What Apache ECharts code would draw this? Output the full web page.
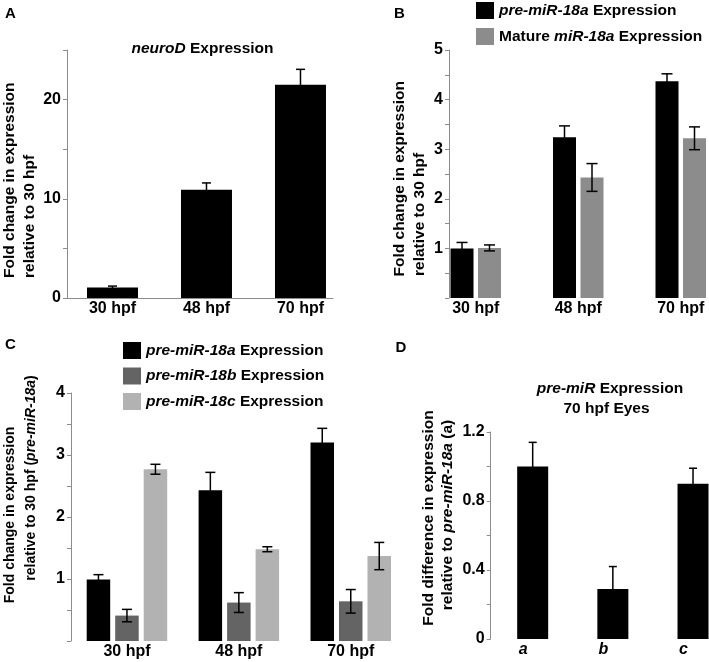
<!DOCTYPE html>
<html>
<head>
<meta charset="utf-8">
<script src="https://cdn.jsdelivr.net/npm/echarts@6/dist/echarts.min.js"></script>
<style>
html,body{margin:0;padding:0;background:#fff;}
#chart{width:709px;height:662px;}
</style>
</head>
<body>
<div id="chart"></div>
<script>
// ---------- data ----------
const timeCats = ['30 hpf', '48 hpf', '70 hpf'];
const eyeCats = ['a', 'b', 'c'];

// Panel A: neuroD
const neuroD = [1.05, 10.9, 21.5];
const neuroDErr = [0.15, 0.7, 1.55];

// Panel B
const bPre18a = [1.0, 3.24, 4.37];
const bPre18aErr = [0.12, 0.23, 0.15];
const bMature18a = [1.01, 2.43, 3.22];
const bMature18aErr = [0.06, 0.28, 0.23];

// Panel C
const cPre18a = [0.99, 2.43, 3.2];
const cPre18aErr = [0.08, 0.29, 0.23];
const cPre18b = [0.41, 0.62, 0.64];
const cPre18bErr = [0.1, 0.16, 0.19];
const cPre18c = [2.77, 1.48, 1.37];
const cPre18cErr = [0.08, 0.04, 0.22];

// Panel D
const dEyes = [1.0, 0.29, 0.9];
const dEyesErr = [0.14, 0.13, 0.09];

// tick labels
const yLabelsA = [0, 10, 20];
const yLabelsB = [1, 2, 3, 4, 5];
const yLabelsC = [1, 2, 3, 4];
const yLabelsD = ['0', '0.4', '0.8', '1.2'];

// ---------- styles ----------
const FONT = 'Liberation Sans, Arial, Helvetica, sans-serif';
const AXIS_COLOR = '#8c8c8c';
const BLACK = '#000000';
const GRAY_B = '#8c8c8c';
const DARK_C = '#646464';
const LIGHT_C = '#b2b2b2';

const labelStyle = (italic) => ({
  fontSize: 16, fontWeight: 'bold', fontFamily: FONT, color: '#000',
  fontStyle: italic ? 'italic' : 'normal', margin: 3
});

// Panel A uses a value x-axis so the axis line length matches the figure
function xAxisValue(gi, min, max, cats) {
  return {
    type: 'value', gridIndex: gi, min: min, max: max,
    splitLine: {show: false},
    axisTick: {show: false},
    axisLine: {show: true, onZero: false, lineStyle: {color: AXIS_COLOR, width: 1}},
    axisLabel: Object.assign(labelStyle(false), {
      customValues: [0, 1, 2],
      formatter: v => cats[Math.round(v)]
    })
  };
}
function xAxisCat(gi, cats, italic, labelPad) {
  return {
    type: 'category', gridIndex: gi, data: cats, boundaryGap: true,
    splitLine: {show: false},
    axisTick: {show: false},
    axisLine: {show: false},
    axisLabel: Object.assign(labelStyle(italic), {interval: 0, padding: labelPad || 0})
  };
}
function yAxisDef(gi, max, interval, fmt, offset) {
  return {
    type: 'value', gridIndex: gi, min: 0, max: max, interval: interval, offset: offset || 0,
    splitLine: {show: false},
    axisLine: {show: true, onZero: false, lineStyle: {color: AXIS_COLOR, width: 1}},
    axisTick: {show: true, length: 4, lineStyle: {color: AXIS_COLOR, width: 1}},
    axisLabel: {formatter: fmt, fontSize: 16, fontWeight: 'bold', fontFamily: FONT, color: '#000', margin: 6}
  };
}

function barSeries(name, gi, vals, color, bw, gapPct) {
  return {
    type: 'bar', name: name, xAxisIndex: gi, yAxisIndex: gi,
    data: vals.map((v, i) => [i, v]),
    barWidth: bw, barGap: gapPct,
    itemStyle: {color: color},
    silent: true
  };
}
function errSeries(gi, vals, errs, offset, cap) {
  return {
    type: 'custom', xAxisIndex: gi, yAxisIndex: gi, z: 5, silent: true,
    data: vals.map((v, i) => [i, v, errs[i]]),
    encode: {x: 0, y: 1},
    renderItem: function (params, api) {
      const x = api.value(0), m = api.value(1), e = api.value(2);
      const top = api.coord([x, m + e]);
      const bot = api.coord([x, m - e]);
      const cx = top[0] + offset;
      const st = {stroke: '#000', lineWidth: 1.5};
      return {type: 'group', children: [
        {type: 'line', shape: {x1: cx, y1: top[1], x2: cx, y2: bot[1]}, style: st},
        {type: 'line', shape: {x1: cx - cap, y1: top[1], x2: cx + cap, y2: top[1]}, style: st},
        {type: 'line', shape: {x1: cx - cap, y1: bot[1], x2: cx + cap, y2: bot[1]}, style: st}
      ]};
    }
  };
}

const richI = (fs) => ({i: {fontStyle: 'italic', fontWeight: 'bold', fontSize: fs, fontFamily: FONT, color: '#000'}});
function gText(text, x, y, fs, align, rot) {
  return {
    type: 'text', x: x, y: y, rotation: rot || 0, silent: true,
    style: {text: text, fontSize: fs, fontWeight: 'bold', fontFamily: FONT, fill: '#000',
            align: align, verticalAlign: 'middle', rich: richI(fs)}
  };
}

// bar geometry (styles)
const BW_B = 23, GAP_B = 4.5;
const BW_C = 23.5, GAP_C = 5;
const offB = [-(BW_B + GAP_B) / 2, (BW_B + GAP_B) / 2];
const offC = [-(BW_C + GAP_C), 0, (BW_C + GAP_C)];

const legendFmt = name => name.replace(/(pre-miR-18[abc]|miR-18a)/, '{i|$1}');
const legendText = {fontSize: 15.5, fontWeight: 'bold', fontFamily: FONT, color: '#000', rich: richI(15.5)};

const gridBase = {outerBoundsMode: 'none', containLabel: false};

const option = {
  animation: false,
  backgroundColor: '#fff',
  textStyle: {fontFamily: FONT},
  grid: [
    Object.assign({left: 67, top: 50, width: 266, height: 248}, gridBase),
    Object.assign({left: 424.5, top: 50, width: 307.5, height: 248}, gridBase),
    Object.assign({left: 71, top: 393, width: 335.7, height: 248}, gridBase),
    Object.assign({left: 492.6, top: 432, width: 240.5, height: 207}, gridBase)
  ],
  xAxis: [
    xAxisValue(0, -0.484, 2.346, timeCats),
    xAxisCat(1, timeCats, false),
    xAxisCat(2, timeCats, false),
    xAxisCat(3, eyeCats, true, [0, 19, 0, 0])
  ],
  yAxis: [
    yAxisDef(0, 25, 5, v => yLabelsA.includes(v) ? String(v) : ''),
    yAxisDef(1, 5, 0.5, v => yLabelsB.includes(v) ? String(v) : '', -24.5),
    yAxisDef(2, 4, 0.5, v => yLabelsC.includes(v) ? String(v) : '', 0),
    yAxisDef(3, 1.2, 0.2, v => {
      const s = (Math.round(v * 10) / 10).toString();
      return yLabelsD.includes(s) ? s : '';
    }, 1.9)
  ],
  legend: [
    {left: 476, top: 2, orient: 'vertical', padding: 0, icon: 'rect', itemWidth: 18, itemHeight: 17, itemGap: 9,
     selectedMode: false, data: ['pre-miR-18a Expression', 'Mature miR-18a Expression'],
     formatter: legendFmt, textStyle: legendText},
    {left: 123, top: 342, orient: 'vertical', padding: 0, icon: 'rect', itemWidth: 18, itemHeight: 17, itemGap: 8.5,
     selectedMode: false, data: ['pre-miR-18a Expression', 'pre-miR-18b Expression', 'pre-miR-18c Expression'],
     formatter: legendFmt, textStyle: legendText}
  ],
  series: [
    barSeries('neuroD Expression', 0, neuroD, BLACK, 51, '0%'),
    errSeries(0, neuroD, neuroDErr, 0, 4.5),

    barSeries('pre-miR-18a Expression', 1, bPre18a, BLACK, BW_B, (GAP_B / BW_B * 100) + '%'),
    barSeries('Mature miR-18a Expression', 1, bMature18a, GRAY_B, BW_B, (GAP_B / BW_B * 100) + '%'),
    errSeries(1, bPre18a, bPre18aErr, offB[0], 5.5),
    errSeries(1, bMature18a, bMature18aErr, offB[1], 5.5),

    barSeries('pre-miR-18a Expression', 2, cPre18a, BLACK, BW_C, (GAP_C / BW_C * 100) + '%'),
    barSeries('pre-miR-18b Expression', 2, cPre18b, DARK_C, BW_C, (GAP_C / BW_C * 100) + '%'),
    barSeries('pre-miR-18c Expression', 2, cPre18c, LIGHT_C, BW_C, (GAP_C / BW_C * 100) + '%'),
    errSeries(2, cPre18a, cPre18aErr, offC[0], 5),
    errSeries(2, cPre18b, cPre18bErr, offC[1], 5),
    errSeries(2, cPre18c, cPre18cErr, offC[2], 5),

    barSeries('pre-miR Expression 70 hpf Eyes', 3, dEyes, BLACK, 31, '0%'),
    errSeries(3, dEyes, dEyesErr, 0, 4)
  ],
  graphic: [
    gText('A', 5, 13.5, 15, 'left'),
    gText('B', 394, 13.5, 15, 'left'),
    gText('C', 5, 344.5, 15, 'left'),
    gText('D', 395.5, 348, 15, 'left'),
    gText('{i|neuroD} Expression', 202.5, 49, 15.5, 'center'),
    gText('{i|pre-miR} Expression', 610, 388.5, 15.5, 'center'),
    gText('70 hpf Eyes', 606.5, 408.5, 15.5, 'center'),
    // y-axis titles
    gText('Fold change in expression', 9.5, 278, 15.5, 'left', Math.PI / 2),
    gText('relative to 30 hpf', 29.5, 278, 15.5, 'left', Math.PI / 2),
    gText('Fold change in expression', 399.7, 276.5, 15.5, 'left', Math.PI / 2),
    gText('relative to 30 hpf', 419.7, 276, 15.5, 'left', Math.PI / 2),
    gText('Fold change in expression', 10, 515, 14, 'center', Math.PI / 2),
    gText('relative to 30 hpf ({i|pre-miR-18a})', 31, 478, 14, 'center', Math.PI / 2),
    gText('Fold difference in expression', 429, 518, 15.5, 'center', Math.PI / 2),
    gText('relative to {i|pre-miR-18a} (a)', 448, 515, 15.5, 'center', Math.PI / 2)
  ]
};

const chart = echarts.init(document.getElementById('chart'), null, {renderer: 'canvas'});
chart.setOption(option);
</script>
</body>
</html>
